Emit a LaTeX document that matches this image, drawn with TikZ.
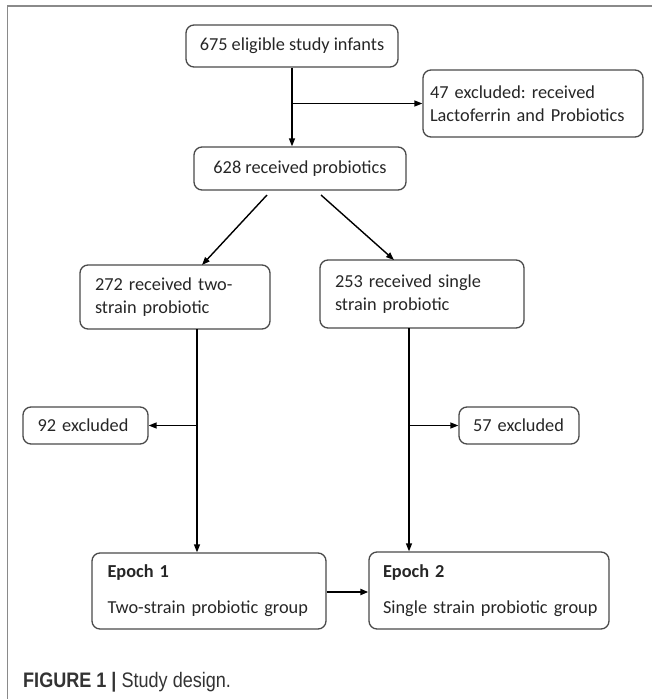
\documentclass[tikz,border=0pt]{standalone}
\usepackage{fontspec}
\setmainfont{Carlito}
\newfontfamily\capfont[FakeStretch=0.86]{Liberation Sans}
\usetikzlibrary{arrows.meta,calc}
\definecolor{frameg}{HTML}{8A8A8A}
\definecolor{boxg}{HTML}{4A4A4A}
\definecolor{capc}{HTML}{333333}
\frenchspacing
\tikzset{
  box/.style={draw=boxg,line width=1.3pt,rounded corners=8pt,inner sep=0pt,
    font=\fontsize{18.3}{23}\selectfont,text=black!85},
  arr/.style={line width=1.4pt,-{Triangle[length=8pt,width=6pt]}},
}
\begin{document}
\begin{tikzpicture}[x=1pt,y=-1pt]
\useasboundingbox (0,0) rectangle (652,699);
\draw[frameg,line width=1.5pt] (652,6) -- (7.5,6) -- (7.5,699);
% boxes
\node[box,minimum width=212pt,minimum height=42pt] (b1) at (292,46) {675 eligible study infants};
\node[box,minimum width=220pt,minimum height=67pt,align=left,text width=206pt] (b2) at (533,103.5) {\mbox{47 excluded: received}\\\mbox{Lactoferrin and Probiotics}};
\node[box,minimum width=212pt,minimum height=43pt] (b3) at (300,168.5) {628 received probiotics};
\node[box,minimum width=190pt,minimum height=64pt,align=left,text width=160pt] (b4) at (175,297) {\mbox{272 received two-}\\\mbox{strain probiotic}};
\node[box,minimum width=204pt,minimum height=68pt,align=left,text width=174pt] (b5) at (422,294) {\mbox{253 received single}\\\mbox{strain probiotic}};
\node[box,minimum width=125pt,minimum height=37pt,align=left,text width=96pt] (e92) at (85.5,425.5) {\mbox{92 excluded}};
\node[box,minimum width=120pt,minimum height=37pt,align=left,text width=92pt] (e57) at (519,425.5) {\mbox{57 excluded}};
\node[box,minimum width=234pt,minimum height=76pt,align=left,text width=203pt] (ep1) at (209,591) {\mbox{\textbf{Epoch 1}}\\[13pt]\mbox{Two-strain probiotic group}};
\node[box,minimum width=240pt,minimum height=77pt,align=left,text width=212pt] (ep2) at (489,590.5) {\mbox{\textbf{Epoch 2}}\\[13pt]\mbox{Single strain probiotic group}};
% coordinates
\coordinate (d1s) at (267,195);
\coordinate (d1e) at (202,265);
\coordinate (d2s) at (321,195);
\coordinate (d2e) at (394,260);
\coordinate (v1) at (197,329);
\coordinate (v2) at (409,328);
% connectors
\draw[arr] (b1.south) -- (b1.south |- b3.north);
\draw[arr] (b1.south |- b2.west) -- (b2.west);
\draw[arr] (d1s) -- (d1e);
\draw[arr] (d2s) -- (d2e);
\draw[arr] (v1) -- (v1 |- ep1.north);
\draw[arr] (v1 |- e92.east) -- (e92.east);
\draw[arr] (v2) -- (v2 |- ep2.north);
\draw[arr] (v2 |- e57.west) -- (e57.west);
\draw[arr,line width=2pt] (ep1.east |- 0,592) -- (ep2.west |- 0,592);
% caption
\node[anchor=base west,inner sep=0pt,text=capc,font=\capfont\fontsize{21}{25}\selectfont] (cap) at (23,687) {\textbf{FIGURE 1} \textbf{|} Study design.};
\end{tikzpicture}
\end{document}
